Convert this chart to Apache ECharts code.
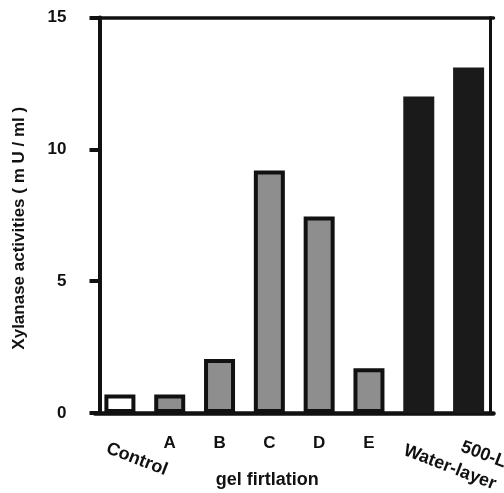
<!DOCTYPE html>
<html>
<head>
<meta charset="utf-8">
<script src="https://cdn.jsdelivr.net/npm/echarts@6/dist/echarts.min.js"></script>
<style>
  html, body { margin: 0; padding: 0; background: #fff; }
  #chart { width: 504px; height: 493px; }
</style>
</head>
<body>
<div id="chart"></div>
<script>
// Xylanase activity of the control, gel-filtration fractions and crude layers
const categories = ['Control', 'A', 'B', 'C', 'D', 'E', 'Water-layer', '500-L'];
const activity = [0.7, 0.7, 2.05, 9.2, 7.45, 1.7, 12.0, 13.1];
const sampleType = ['control', 'fraction', 'fraction', 'fraction', 'fraction', 'fraction', 'crude', 'crude'];
const yMin = 0, yMax = 15, yStep = 5;
const yTitle = 'Xylanase activities ( m U / ml )';
const xTitle = 'gel firtlation';

const INK = '#111111';
const FONT = "'Liberation Sans', Arial, Helvetica, sans-serif";
const fills = { control: '#ffffff', fraction: '#8e8e8e', crude: '#1a1a1a' };
const richKey = { 'Control': 'ctl', 'Water-layer': 'wat', '500-L': 'fiv' };

const barData = activity.map((v, i) => ({
  value: v,
  itemStyle: {
    color: fills[sampleType[i]],
    borderColor: sampleType[i] === 'crude' ? fills.crude : INK,
    borderWidth: 4
  }
}));

const labelBase = { fontFamily: FONT, fontWeight: 'bold', fontSize: 17, color: INK };
const slanted = Object.assign({}, labelBase, { fontSize: 18 });

const chart = echarts.init(document.getElementById('chart'), null, { renderer: 'canvas' });
chart.setOption({
  animation: false,
  backgroundColor: '#ffffff',
  grid: { left: 95, right: 10.5, top: 17.5, bottom: 80, containLabel: false, outerBoundsMode: 'none' },
  xAxis: [
    {
      type: 'category', position: 'bottom', data: categories,
      axisLine: { show: true, lineStyle: { color: INK, width: 4.5 } },
      axisTick: { show: false },
      axisLabel: Object.assign({}, labelBase, {
        interval: 0, margin: 22,
        formatter: (v, i) => sampleType[i] === 'fraction' ? v : ''
      }),
      name: xTitle, nameLocation: 'middle', nameGap: 58,
      nameTextStyle: Object.assign({}, labelBase, { fontSize: 18, padding: [0, 54, 0, 0] })
    },
    {
      type: 'category', position: 'bottom', data: categories,
      axisLine: { show: false }, axisTick: { show: false },
      axisLabel: Object.assign({}, slanted, {
        interval: 0, rotate: -21, align: 'center', verticalAlign: 'middle', margin: 36,
        formatter: (v, i) => sampleType[i] === 'fraction' ? '' : '{' + richKey[v] + '|' + v + '}',
        rich: {
          ctl: Object.assign({}, slanted, { padding: [7, 0, 0, 39] }),
          wat: Object.assign({}, slanted, { padding: [12, 0, 0, 71] }),
          fiv: Object.assign({}, slanted, { padding: [0, 0, 0, 32] })
        }
      })
    },
    {
      type: 'category', position: 'top', data: categories,
      axisLine: { show: true, lineStyle: { color: INK, width: 3.5 } },
      axisTick: { show: false }, axisLabel: { show: false }
    }
  ],
  yAxis: [
    {
      type: 'value', position: 'left', offset: -4.5,
      min: yMin, max: yMax, interval: yStep,
      axisLine: { show: true, lineStyle: { color: INK, width: 4 } },
      axisTick: { show: true, inside: false, length: 10, lineStyle: { color: INK, width: 4 } },
      axisLabel: Object.assign({}, labelBase, { margin: 33 }),
      splitLine: { show: false },
      name: yTitle, nameLocation: 'middle', nameRotate: 90, nameGap: 72,
      nameTextStyle: Object.assign({}, labelBase, { fontSize: 17, padding: [0, 26, 0, 0] })
    },
    {
      type: 'value', position: 'right', offset: -3.5,
      min: yMin, max: yMax, interval: yStep,
      axisLine: { show: true, lineStyle: { color: INK, width: 3 } },
      axisTick: { show: false }, axisLabel: { show: false }, splitLine: { show: false }
    }
  ],
  series: [
    {
      type: 'bar', xAxisIndex: 0, yAxisIndex: 0,
      data: barData, barWidth: 31
    }
  ]
});
</script>
</body>
</html>
